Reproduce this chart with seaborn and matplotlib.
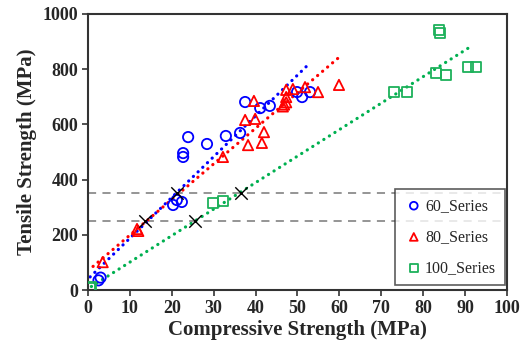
import numpy as np
import pandas as pd
import matplotlib
matplotlib.use("Agg")
import matplotlib.pyplot as plt
import seaborn as sns

# ---- data ----
s60_x = [2.5, 3.0, 20.3, 21.2, 22.4, 22.7, 22.7, 23.9, 28.4, 32.9, 36.3, 37.5, 41.1, 43.4, 49.9, 51.1, 53.0]
s60_y = [35, 45, 308, 326, 319, 482, 496, 554, 529, 558, 569, 681, 659, 667, 717, 699, 717]

s80_x = [3.5, 11.7, 12.0, 32.2, 37.5, 38.2, 39.6, 39.9, 41.5, 42.0, 46.5, 46.8, 47.3, 47.3, 47.3, 48.9, 51.8, 54.9, 59.9]
s80_y = [101, 221, 214, 482, 616, 525, 685, 620, 533, 572, 665, 672, 680, 699, 725, 728, 735, 717, 743]

s100_x = [0.4, 0.6, 29.9, 32.3, 73.0, 76.1, 83.0, 85.4, 90.7, 92.6, 83.8, 84.0]
s100_y = [6, 10, 315, 322, 717, 717, 786, 779, 808, 808, 942, 931]

# trend lines: slope, intercept, x-range
trend_series = ["60_Series", "80_Series", "100_Series"]
trend_slope = [14.77, 12.9, 9.6]
trend_intercept = [40, 70, 5]
trend_xmin = [0.5, 1.2, 0.8]
trend_xmax = [52.5, 60.1, 91.9]

# intersection markers
cross_x = [13.6, 21.2, 25.5, 36.5]
cross_y = [250, 350, 250, 350]

ref_levels = [250, 350]

x_ticks = list(range(0, 101, 10))
y_ticks = list(range(0, 1001, 200))

series_names = ["60_Series", "80_Series", "100_Series"]
colors = {"60_Series": "#0000FF", "80_Series": "#FF0000", "100_Series": "#1DB15A"}
line_colors = {"60_Series": "#0000FF", "80_Series": "#FF0000", "100_Series": "#00B050"}
markers = {"60_Series": "o", "80_Series": "^", "100_Series": "s"}

df = pd.concat([
    pd.DataFrame({"x": s60_x, "y": s60_y, "series": "60_Series"}),
    pd.DataFrame({"x": s80_x, "y": s80_y, "series": "80_Series"}),
    pd.DataFrame({"x": s100_x, "y": s100_y, "series": "100_Series"}),
])

sns.set_style("white")
plt.rcParams["font.family"] = ["Liberation Serif", "DejaVu Serif"]

fig = plt.figure(figsize=(5.27, 3.49), dpi=100)
ax = fig.add_axes([0.167, 0.169, 0.795, 0.791])

# dashed reference lines
for lv in ref_levels:
    ax.axhline(lv, color="#8C8C8C", lw=1.3, ls=(0, (4.5, 3.5)), zorder=1)

# trend lines
for name, m, b, x0, x1 in zip(trend_series, trend_slope, trend_intercept, trend_xmin, trend_xmax):
    xs = np.array([x0, x1])
    sns.lineplot(x=xs, y=m * xs + b, ax=ax, color=line_colors[name], lw=2.3,
                 linestyle=(0, (0.05, 2.0)), dash_capstyle="round", zorder=2)

# scatter
for name in series_names:
    sub = df[df["series"] == name]
    sns.scatterplot(data=sub, x="x", y="y", ax=ax, marker=markers[name], s=55,
                    facecolors="none", edgecolor=colors[name], linewidth=1.3,
                    label=name, zorder=3)

# cross markers
sns.scatterplot(x=cross_x, y=cross_y, ax=ax, marker="x", s=80, color="black",
                linewidth=1.0, zorder=4)

ax.set_xlim(0, 100)
ax.set_ylim(0, 1000)
ax.set_xticks(x_ticks)
ax.set_yticks(y_ticks)
ax.tick_params(axis="both", direction="out", length=4, width=1.2, labelsize=13,
               bottom=True, left=True, pad=3, color="#333333")
for lab in ax.get_xticklabels() + ax.get_yticklabels():
    lab.set_fontweight("bold")
for sp in ax.spines.values():
    sp.set_visible(True)
    sp.set_color("#333333")
    sp.set_linewidth(1.5)

ax.set_xlabel("Compressive Strength (MPa)", fontsize=15, fontweight="bold", labelpad=2)
ax.set_ylabel("Tensile Strength (MPa)", fontsize=15, fontweight="bold", labelpad=4)

handles, labels = ax.get_legend_handles_labels()
hl = [(h, l) for h, l in zip(handles, labels) if l in series_names]
leg = ax.legend([h for h, _ in hl], [l for _, l in hl], loc="lower right",
                bbox_to_anchor=(0.995, 0.018), fontsize=11.5, frameon=True,
                fancybox=False, edgecolor="#333333", handletextpad=0.1,
                labelspacing=0.95, borderpad=0.55, handlelength=1.2, markerscale=0.75,
                borderaxespad=0)
leg.get_frame().set_linewidth(1.2)

fig.savefig("out.png", dpi=100)
